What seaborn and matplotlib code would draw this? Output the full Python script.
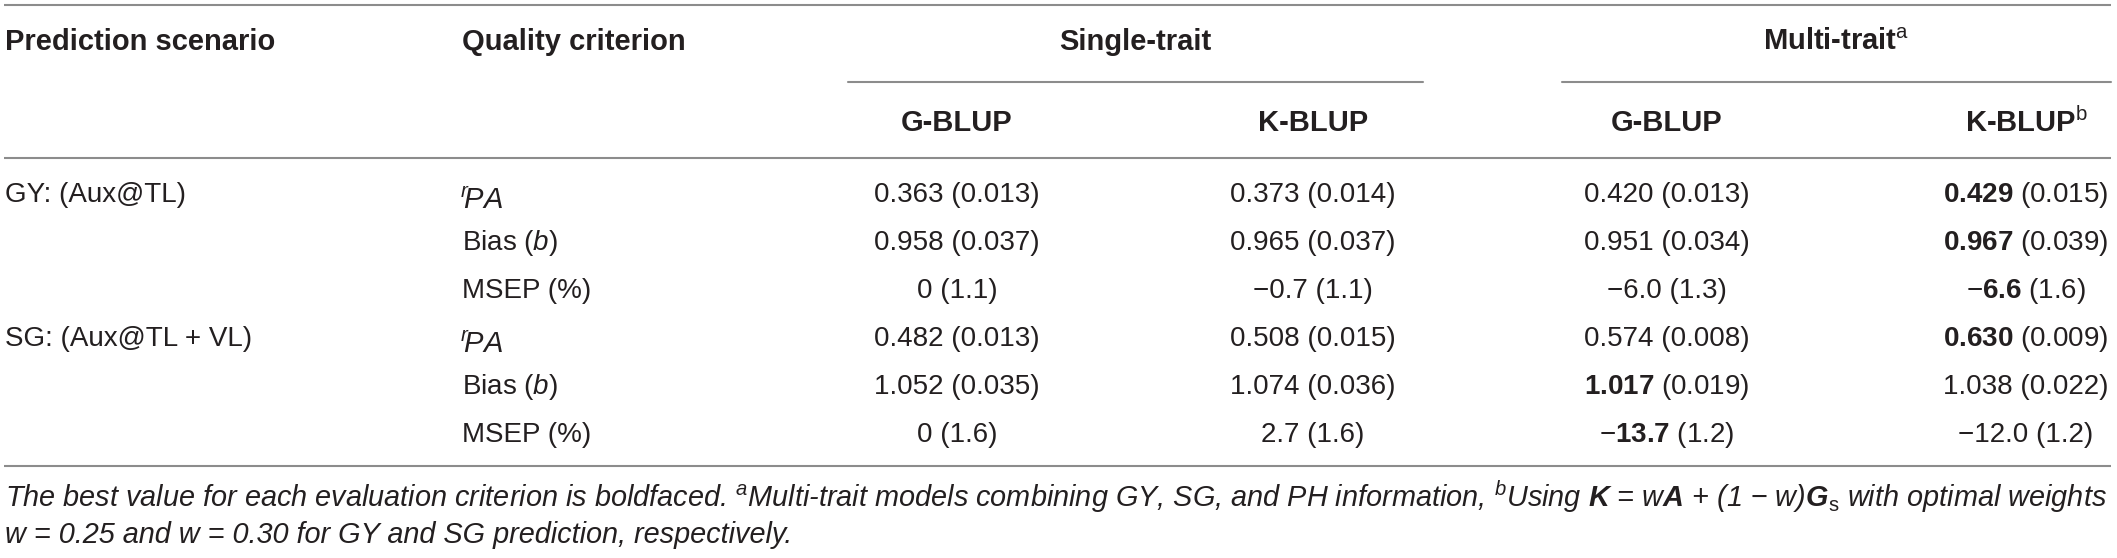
import matplotlib
matplotlib.use("Agg")
import matplotlib.pyplot as plt
import seaborn as sns

# --- table content ---------------------------------------------------------
scenarios = ["GY: (Aux@TL)", "SG: (Aux@TL + VL)"]
criteria = [r"$^{r}\!PA$", r"Bias ($b$)", "MSEP (%)"]
groups = ["Single-trait", r"Multi-trait$^{\mathrm{a}}$"]
models = ["G-BLUP", "K-BLUP", "G-BLUP", r"K-BLUP$^{\mathrm{b}}$"]

# estimates (rows: rPA, Bias, MSEP for GY, then for SG)
single_gblup = [0.363, 0.958, 0.0, 0.482, 1.052, 0.0]
single_kblup = [0.373, 0.965, -0.7, 0.508, 1.074, 2.7]
multi_gblup = [0.420, 0.951, -6.0, 0.574, 1.017, -13.7]
multi_kblup = [0.429, 0.967, -6.6, 0.630, 1.038, -12.0]

# standard errors
single_gblup_se = [0.013, 0.037, 1.1, 0.013, 0.035, 1.6]
single_kblup_se = [0.014, 0.037, 1.1, 0.015, 0.036, 1.6]
multi_gblup_se = [0.013, 0.034, 1.3, 0.008, 0.019, 1.2]
multi_kblup_se = [0.015, 0.039, 1.6, 0.009, 0.022, 1.2]

# best value per criterion (boldfaced)
single_gblup_best = [False] * 6
single_kblup_best = [False] * 6
multi_gblup_best = [False, False, False, False, True, True]
multi_kblup_best = [True, True, True, True, False, False]

footnote_1 = (r"The best value for each evaluation criterion is boldfaced. $^{a}$Multi-trait models "
              r"combining GY, SG, and PH information, $^{b}$Using $\mathbfit{K}$ = w$\mathbfit{A}$ + "
              r"(1 $-$ w)$\mathbfit{G}_{\mathrm{s}}$ with optimal weights")
footnote_2 = "w = 0.25 and w = 0.30 for GY and SG prediction, respectively."

# --- style -----------------------------------------------------------------
sns.set_theme(style="white")
plt.rcParams["font.family"] = ["Liberation Sans", "DejaVu Sans"]
plt.rcParams["mathtext.fontset"] = "custom"
plt.rcParams["mathtext.rm"] = "Liberation Sans"
plt.rcParams["mathtext.it"] = "Liberation Sans:italic"
plt.rcParams["mathtext.bf"] = "Liberation Sans:bold"
plt.rcParams["mathtext.bfit"] = "Liberation Sans:bold:italic"

TXT = "#231f20"
RULE = "#8c8c8c"
BODY = 20
HEAD = 21
NOTE = 20.8

fig = plt.figure(figsize=(21.17, 5.58), dpi=100)
ax = fig.add_axes([0, 0, 1, 1])
ax.set_xlim(0, 2117)
ax.set_ylim(558, 0)
ax.axis("off")


def cell(v, se, bold, d):
    # format "estimate (se)", with the estimate in bold if it is the best one
    num = "0" if v == 0 else f"{abs(v):.{d}f}"
    sign = "\u2212" if v < 0 else ""
    se_txt = f"{se:.{d}f}"
    if bold:
        return sign + r"$\mathbf{" + num + "}$" + f" ({se_txt})"
    return f"{sign}{num} ({se_txt})"


# rules
for y in (5, 158, 466):
    ax.plot([4, 2111], [y, y], color=RULE, lw=1.5, solid_capstyle="butt")
ax.plot([848, 1423], [82, 82], color=RULE, lw=1.5)
ax.plot([1562, 2111], [82, 82], color=RULE, lw=1.5)

# header
ax.text(5, 42, "Prediction scenario", fontsize=HEAD, fontweight="bold", color=TXT, va="center")
ax.text(462, 42, "Quality criterion", fontsize=HEAD, fontweight="bold", color=TXT, va="center")
group_x = [1135, 1836]
for gx, g in zip(group_x, groups):
    ax.text(gx, 42, g, fontsize=HEAD, fontweight="bold", color=TXT, va="center", ha="center")
col_x = [957, 1313, 1667, 2026]
for cx, m in zip(col_x, models):
    ax.text(cx, 123, m, fontsize=HEAD, fontweight="bold", color=TXT, va="center", ha="center")

# body
row_y = [195 + 48 * i for i in range(6)]
for i, s in enumerate(scenarios):
    ax.text(5, row_y[3 * i], s, fontsize=BODY, color=TXT, va="center")
for i, y in enumerate(row_y):
    crit = criteria[i % 3]
    if i % 3 == 0:
        ax.text(460, y + 6, crit, fontsize=BODY + 1, color=TXT, va="center")
    else:
        ax.text(462, y, crit, fontsize=BODY, color=TXT, va="center")

columns = [
    (single_gblup, single_gblup_se, single_gblup_best),
    (single_kblup, single_kblup_se, single_kblup_best),
    (multi_gblup, multi_gblup_se, multi_gblup_best),
    (multi_kblup, multi_kblup_se, multi_kblup_best),
]
for cx, (vals, ses, best) in zip(col_x, columns):
    for i, y in enumerate(row_y):
        d = 1 if i % 3 == 2 else 3
        ax.text(cx, y, cell(vals[i], ses[i], best[i], d), fontsize=BODY, color=TXT,
                va="center", ha="center")

# footnotes
ax.text(5, 497, footnote_1, fontsize=NOTE, style="italic", color=TXT, va="center")
ax.text(5, 535, footnote_2, fontsize=NOTE, style="italic", color=TXT, va="center")

fig.savefig("out.png", dpi=100)
